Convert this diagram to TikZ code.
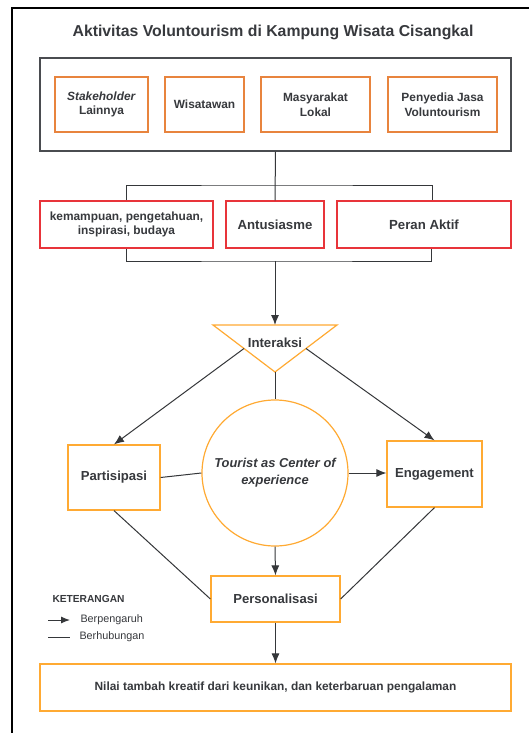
\documentclass[tikz,border=0pt]{standalone}
\usepackage{fontspec}
\setmainfont{Liberation Sans}
\usetikzlibrary{arrows.meta,calc}
\definecolor{txt}{HTML}{37393D}
\definecolor{darkor}{HTML}{E8843E}
\definecolor{lightor}{HTML}{FFAA33}
\definecolor{redb}{HTML}{E8343A}
\definecolor{grayb}{HTML}{4A4C50}
\definecolor{conn}{HTML}{35373A}
\tikzset{
  boxbase/.style={draw, line width=1.2pt, inner sep=0pt, align=center, text=txt, font=\bfseries},
  topbox/.style={boxbase, draw=darkor, font=\bfseries\fontsize{11.9}{14.5}\selectfont},
  redbox/.style={boxbase, draw=redb, font=\bfseries\fontsize{13.2}{15}\selectfont},
  orbox/.style={boxbase, draw=lightor, font=\bfseries\fontsize{13.1}{15}\selectfont},
  link/.style={draw=conn, line width=1pt},
  influence/.style={link, -{Latex[length=10pt,width=8pt]}},
}
\begin{document}
\begin{tikzpicture}[x=1pt,y=-1pt]
\useasboundingbox (0,0) rectangle (529,733);
\fill[white] (0,0) rectangle (529,733);
% outer frame
\draw[black, line width=1.4pt] (12,733) -- (12,8) -- (529,8);
% title
\node[text=txt, font=\bfseries\fontsize{15.8}{18}\selectfont] (title) at (273,32) {Aktivitas Voluntourism di Kampung Wisata Cisangkal};
% gray container
\node[draw=grayb, line width=1.3pt, minimum width=471pt, minimum height=93pt, inner sep=0pt] (grp) at (275.5,104.5) {};
% top orange boxes
\node[topbox, minimum width=93pt, minimum height=55pt] (stake) at (101.5,104.5) {\textit{Stakeholder}\\Lainnya};
\node[topbox, minimum width=79pt, minimum height=55pt] (wis) at (204.5,104.5) {Wisatawan};
\node[topbox, minimum width=109pt, minimum height=55pt] (masy) at (315.5,104.5) {Masyarakat\\Lokal};
\node[topbox, minimum width=109pt, minimum height=55pt] (peny) at (442.5,104.5) {Penyedia Jasa\\Voluntourism};
% red boxes
\node[redbox, minimum width=173pt, minimum height=47pt, font=\bfseries\fontsize{11.9}{14.5}\selectfont] (kem) at (126.5,224.5) {kemampuan, pengetahuan,\\inspirasi, budaya};
\node[redbox, minimum width=98pt, minimum height=47pt] (antu) at (275,224.5) {Antusiasme};
\node[redbox, minimum width=174pt, minimum height=47pt] (peran) at (424,224.5) {Peran Aktif};
% brackets
\coordinate (brT) at (275,185);
\coordinate (brB) at (275,261);
\draw[link] (grp.south) -- (antu.north);
\draw[link] (kem.north -| 126,0) |- (brT) -| (peran.north -| 432,0);
\draw[link] (kem.south -| 126,0) |- (brB) -| (peran.south -| 431,0);
% triangle
\coordinate (tL) at (213,325);
\coordinate (tR) at (337,325);
\coordinate (tA) at (275,372);
\coordinate (tT) at (275,325);
\draw[lightor, line width=1.2pt, line join=miter] (tL) -- (tR) -- (tA) -- cycle;
\node[text=txt, font=\bfseries\fontsize{13.2}{15}\selectfont] (inter) at (275,343) {Interaksi};
\draw[influence] (brB) -- (tT);
% circle
\node[draw=lightor, line width=1.2pt, circle, minimum size=146pt, inner sep=0pt, align=center, text=txt, font=\bfseries\itshape\fontsize{12.9}{17}\selectfont] (circ) at (275,473) {Tourist as Center of\\experience};
\draw[link] (tA) -- (circ.north);
% side boxes
\node[orbox, minimum width=92pt, minimum height=65pt] (par) at (114,477.5) {Partisipasi};
\node[orbox, minimum width=95pt, minimum height=66pt] (eng) at (434.5,474) {Engagement};
\node[orbox, minimum width=129pt, minimum height=46pt] (pers) at (275.5,599) {Personalisasi};
\node[orbox, minimum width=471pt, minimum height=47pt, font=\bfseries\fontsize{11.9}{14}\selectfont] (nilai) at (275.5,687.5) {Nilai tambah kreatif dari keunikan, dan keterbaruan pengalaman};
% connectors
\coordinate (iL) at ($(tL)!0.5!(tA)$);
\coordinate (iR) at ($(tR)!0.5!(tA)$);
\draw[influence] (iL) -- (par.north);
\draw[influence] (iR) -- (eng.north);
\draw[link] (par.east) -- (circ.west);
\draw[influence] (circ.east) -- (eng.west |- circ.east);
\draw[link] (par.south) -- (pers.west);
\draw[link] (eng.south) -- (pers.east);
\draw[influence] (circ.south) -- (pers.north);
\draw[influence] (pers.south) -- (nilai.north);
% legend
\node[anchor=west, text=txt, font=\bfseries\fontsize{10.2}{12}\selectfont] (ket) at (49,599) {KETERANGAN};
\coordinate (la1) at (48,620);
\coordinate (la2) at (70,620);
\coordinate (lb1) at (48,637);
\coordinate (lb2) at (70,637);
\draw[link, -{Latex[length=9pt,width=7pt]}] (la1) -- (la2);
\draw[link] (lb1) -- (lb2);
\node[anchor=west, text=txt, font=\fontsize{10.8}{12}\selectfont] (lgA) at (77,620) {Berpengaruh};
\node[anchor=west, text=txt, font=\fontsize{10.8}{12}\selectfont] (lgB) at (76,637) {Berhubungan};
\end{tikzpicture}
\end{document}
